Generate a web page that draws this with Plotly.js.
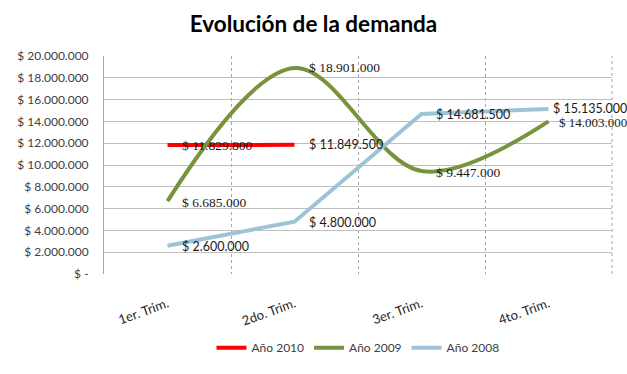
<!DOCTYPE html>
<html>
<head>
<meta charset="utf-8">
<script src="https://cdn.plot.ly/plotly-3.0.1.min.js"></script>
<style>html,body{margin:0;padding:0;background:#fff;}#chart{width:627px;height:374px;}</style>
</head>
<body>
<div id="chart"></div>
<script>
var categories = ["1er. Trim.", "2do. Trim.", "3er. Trim.", "4to. Trim."];
var seriesNames = ["Año 2010", "Año 2009", "Año 2008"];
var y2010 = [11829800, 11849500];
var y2009 = [6685000, 18901000, 9447000, 14003000];
var y2008 = [2600000, 4800000, 14681500, 15135000];
var labels2010 = ["$ 11.829.800", "$ 11.849.500"];
var labels2009 = ["$ 6.685.000", "$ 18.901.000", "$ 9.447.000", "$ 14.003.000"];
var labels2008 = ["$ 2.600.000", "$ 4.800.000", "$ 14.681.500", "$ 15.135.000"];
var yTickVals = [0, 2000000, 4000000, 6000000, 8000000, 10000000, 12000000, 14000000, 16000000, 18000000, 20000000];
var yTickText = ["$ -", "$ 2.000.000", "$ 4.000.000", "$ 6.000.000", "$ 8.000.000", "$ 10.000.000", "$ 12.000.000", "$ 14.000.000", "$ 16.000.000", "$ 18.000.000", "$ 20.000.000"];

var SERIF = "Liberation Serif, Times New Roman, serif";
var SANS = "Lato, Liberation Sans, sans-serif";

var traces = [
  {x: categories.slice(0, y2010.length), y: y2010, name: seriesNames[0], mode: "lines",
   line: {color: "#FF0000", width: 4}},
  {x: categories, y: y2009, name: seriesNames[1], mode: "lines",
   line: {color: "#77933C", width: 4, shape: "spline", smoothing: 1}},
  {x: categories, y: y2008, name: seriesNames[2], mode: "lines",
   line: {color: "#9DC3D6", width: 4}}
];

var annotations = [];
function addLabels(xs, ys, texts, fonts, sizes, yshifts, xshifts) {
  for (var i = 0; i < ys.length; i++) {
    annotations.push({x: xs[i], y: ys[i], text: texts[i], showarrow: false,
      xanchor: "left", yanchor: "middle", xshift: xshifts[i], yshift: yshifts[i],
      font: {family: fonts[i], size: sizes[i], color: "#1a1a1a"}});
  }
}
addLabels(categories, y2010, labels2010, [SERIF, SANS], [13.5, 12.5], [0, 0], [12, 12]);
addLabels(categories, y2009, labels2009, [SERIF, SERIF, SERIF, SERIF], [13.5, 13.5, 13.5, 13], [-1, 0, -1, -1], [12, 12, 12, 8]);
addLabels(categories, y2008, labels2008, [SANS, SANS, SANS, SANS], [12.5, 12.5, 12.5, 12.5], [-1, -1, -1, 1], [12, 12, 12, 2]);

var layout = {
  width: 627, height: 374,
  margin: {l: 104, r: 15, t: 56, b: 96},
  paper_bgcolor: "#ffffff", plot_bgcolor: "#ffffff",
  title: {text: "<b>Evolución de la demanda</b>", x: 0.5, xanchor: "center", y: 0.935, yanchor: "middle",
          font: {family: "Lato, Liberation Sans, sans-serif", size: 22.5, color: "#000"}},
  showlegend: true,
  legend: {orientation: "h", x: 0.5, xanchor: "center", y: -0.338, yanchor: "middle",
           font: {family: SANS, size: 12, color: "#404040"}, itemwidth: 30, tracegroupgap: 0},
  xaxis: {type: "category", categoryarray: categories, range: [-0.5, 3.5],
          tickson: "boundaries", showgrid: true, gridcolor: "#a6a6a6", griddash: "dot", gridwidth: 1,
          ticks: "", tickangle: -20, tickfont: {family: SANS, size: 13, color: "#262626"},
          ticklabelstandoff: 19,
          showline: false, zeroline: false, fixedrange: true},
  yaxis: {range: [0, 20000000], tickvals: yTickVals, ticktext: yTickText,
          showgrid: true, gridcolor: "#bfbfbf", gridwidth: 1, zeroline: false,
          showline: true, linecolor: "#a6a6a6", linewidth: 1, ticks: "",
          tickfont: {family: SANS, size: 12, color: "#404040"}, ticklabelstandoff: 12, fixedrange: true},
  shapes: [{type: "line", xref: "paper", yref: "paper", x0: 1, x1: 1, y0: 0, y1: 1,
            line: {color: "#a6a6a6", width: 1, dash: "dot"}, layer: "below"}],
  annotations: annotations
};

Plotly.newPlot("chart", traces, layout, {displayModeBar: false, staticPlot: true});
</script>
</body>
</html>
